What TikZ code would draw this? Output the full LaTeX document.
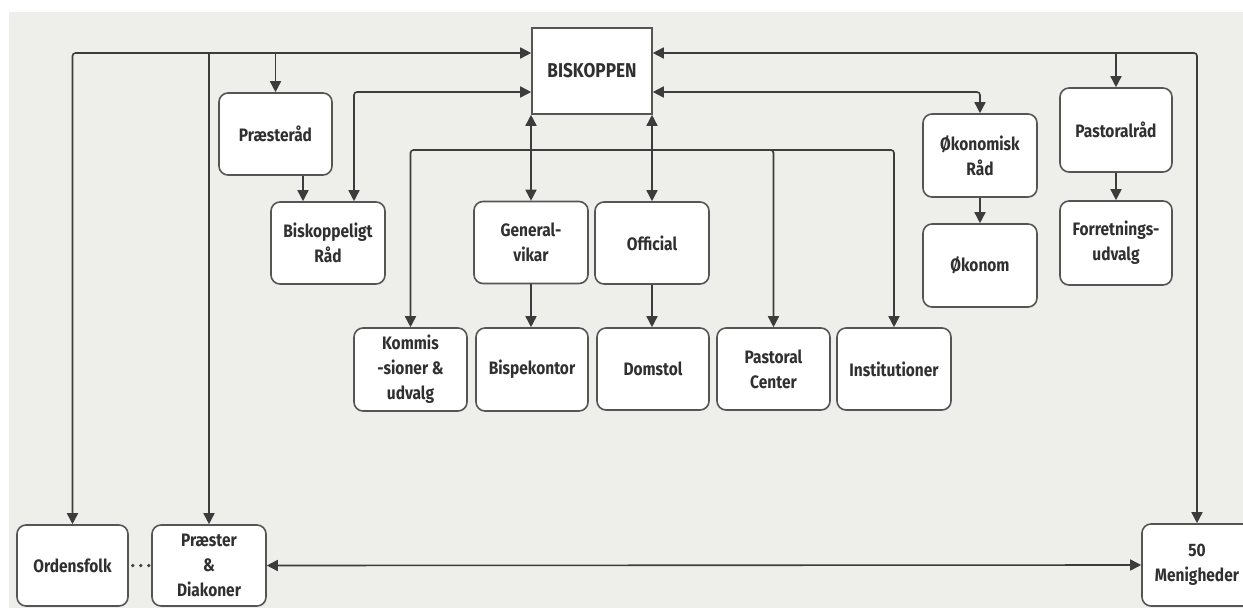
\documentclass[tikz,border=0pt]{standalone}
\usepackage{fontspec}
\setmainfont{Fira Sans}[FakeStretch=0.86]
\usetikzlibrary{arrows.meta,calc}
\definecolor{bg}{HTML}{EEEEEA}
\definecolor{ln}{HTML}{3C3C3C}
\definecolor{bd}{HTML}{555555}
\definecolor{tx}{HTML}{303030}
\begin{document}
\begin{tikzpicture}[x=1pt,y=-1pt,
  rbox/.style={draw=bd,line width=1.6pt,fill=white,rounded corners=9pt,
    minimum width=113pt,minimum height=82pt,inner sep=1pt,align=center,
    text=tx,font=\fontsize{18}{25}\selectfont\bfseries},
  sbox/.style={rbox,rounded corners=0pt,font=\fontsize{20}{25}\selectfont\bfseries},
  conn/.style={draw=ln,line width=1.6pt,rounded corners=3pt},
  arr/.style={conn,-{Triangle[length=11pt,width=11pt]}},
  darr/.style={conn,{Triangle[length=11pt,width=11pt]}-{Triangle[length=11pt,width=11pt]}},
  dotline/.style={draw=ln,line width=3.6pt,line cap=round,dash pattern=on 0pt off 8pt,dash phase=4pt}]
\useasboundingbox (0,0) rectangle (1243,608);
\fill[bg] (9,12) rectangle (1243,608);
\begin{scope}
\clip (0,0) rectangle (1243,608);
% nodes
\node[sbox,minimum width=120pt,minimum height=86pt] (bisk) at (592,71) {BISKOPPEN};
\node[rbox] (praesterad) at (275.5,134) {Præsteråd};
\node[rbox,minimum width=114pt] (biskraad) at (328,243) {Biskoppeligt\\Råd};
\node[rbox,minimum width=114pt] (genvik) at (531,242.5) {General-\\vikar};
\node[rbox,minimum width=114pt] (official) at (652,243) {Official};
\node[rbox,minimum height=83pt] (komm) at (410.5,369.5) {Kommis\\-sioner \&\\udvalg};
\node[rbox,minimum width=112pt,minimum height=83pt] (bispek) at (532,369.5) {Bispekontor};
\node[rbox,minimum width=112pt] (domstol) at (653,369) {Domstol};
\node[rbox] (pastcent) at (773.5,369) {Pastoral\\Center};
\node[rbox,minimum width=114pt] (instit) at (894,369) {Institutioner};
\node[rbox,minimum width=114pt,minimum height=83pt] (okraad) at (980,155.5) {Økonomisk\\Råd};
\node[rbox,minimum width=114pt,minimum height=83pt] (okonom) at (980,265.5) {Økonom};
\node[rbox,minimum width=112pt,minimum height=84pt] (pastraad) at (1116,130) {Pastoralråd};
\node[rbox,minimum width=112pt,minimum height=84pt] (forret) at (1116,243) {Forretnings-\\udvalg};
\node[rbox,minimum width=111pt,minimum height=81pt] (orden) at (72.5,565.5) {Ordensfolk};
\node[rbox,minimum width=114pt,minimum height=81pt] (praester) at (209,565.5) {Præster\\\&\\Diakoner};
\node[rbox,minimum width=110pt,minimum height=82pt] (menig) at (1197,565) {50\\Menigheder};
% coordinates
\coordinate (bL1) at ([yshift=18pt]bisk.west);
\coordinate (bL2) at ([yshift=-21pt]bisk.west);
\coordinate (bR1) at ([yshift=18pt]bisk.east);
\coordinate (bR2) at ([yshift=-21pt]bisk.east);
\coordinate (hub) at (592,150);
% connectors left
\draw[darr] (bL1) -| (orden.north);
\draw[arr] (praester.north |- bL1) -- (praester.north);
\draw[arr] (praesterad.north |- bL1) -- (praesterad.north);
\draw[darr] (bL2) -| ([xshift=26pt]biskraad.north);
\draw[arr] ([xshift=-25pt]biskraad.north |- praesterad.south) -- ([xshift=-25pt]biskraad.north);
% bottom of bisk
\draw[darr] (genvik.north |- bisk.south) -- (genvik.north);
\draw[darr] (official.north |- bisk.south) -- (official.north);
\draw[arr] (genvik.south) -- (genvik.south |- bispek.north);
\draw[arr] (official.south) -- (official.south |- domstol.north);
% horizontal distribution line
\draw[arr] (hub) -| (komm.north);
\draw[arr] (hub) -| (pastcent.north);
\draw[arr] (hub) -| (instit.north);
% right
\draw[darr] (bR1) -| (menig.north);
\draw[arr] (pastraad.north |- bR1) -- (pastraad.north);
\draw[darr] (bR2) -| (okraad.north);
\draw[arr] (okraad.south) -- (okonom.north);
\draw[arr] (pastraad.south) -- (forret.north);
% bottom
\draw[darr] (praester.east) -- (menig.west);
\draw[dotline] (orden.east) -- (praester.west);
\end{scope}
\end{tikzpicture}
\end{document}
